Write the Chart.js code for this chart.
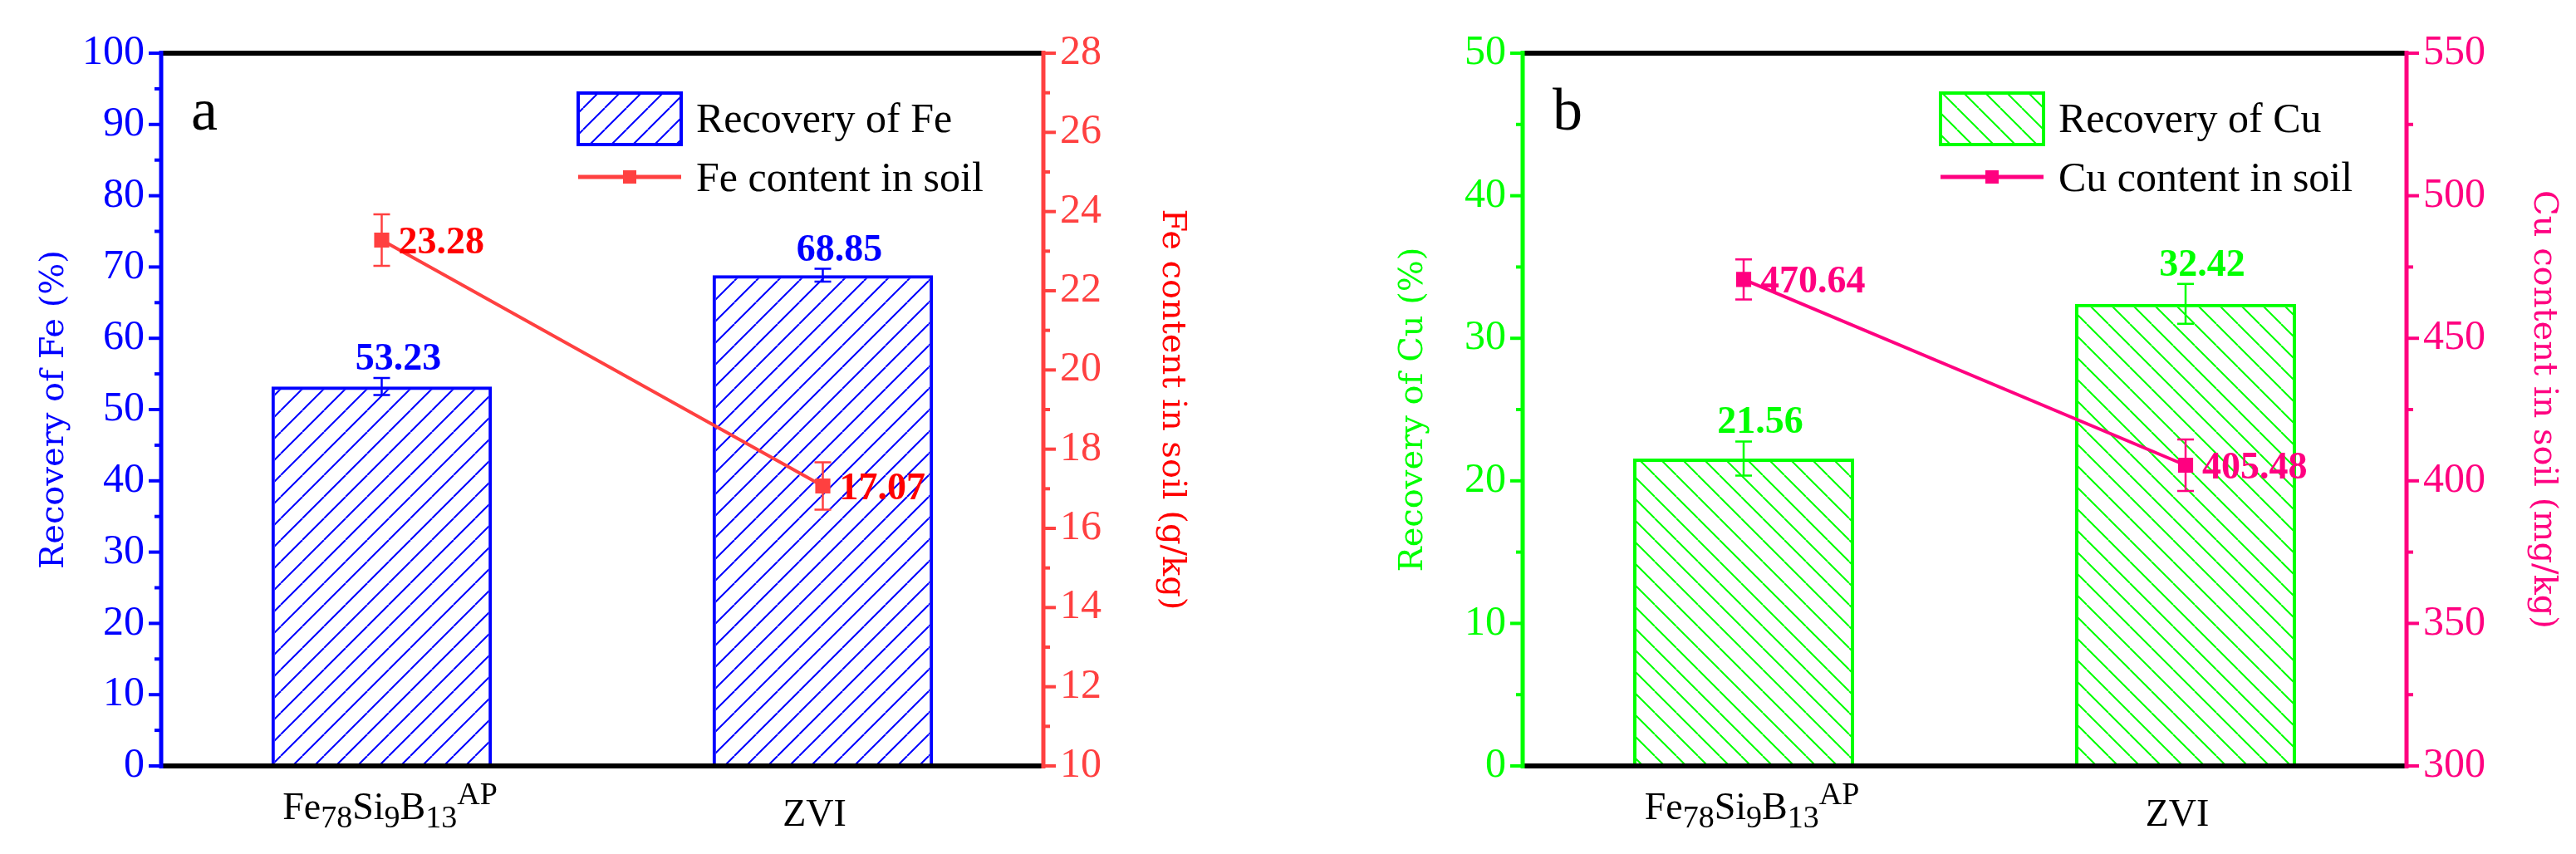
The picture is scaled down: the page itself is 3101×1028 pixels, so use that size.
<!DOCTYPE html>
<html><head><meta charset="utf-8">
<script src="https://cdn.jsdelivr.net/npm/chart.js@4.4.0/dist/chart.umd.min.js"></script>
<style>body{margin:0;background:#fff;width:3101px;height:1028px;overflow:hidden}
.w{position:absolute;top:0;height:1028px}</style></head>
<body>
<div class="w" style="left:0;width:1550px"><canvas id="a"></canvas></div>
<div class="w" style="left:1550px;width:1551px"><canvas id="b"></canvas></div>
<script>
const categories = ["Fe78Si9B13AP", "ZVI"];
const feRecovery = [53.23, 68.85];
const feRecoveryErr = [1.2, 0.9];
const feContent = [23.28, 17.07];
const feContentErr = [0.65, 0.6];
const cuRecovery = [21.56, 32.42];
const cuRecoveryErr = [1.2, 1.4];
const cuContent = [470.64, 405.48];
const cuContentErr = [7, 9];

const FONT = "'Liberation Serif', 'Times New Roman', serif";
const TFONT = "'DejaVu Serif', serif";

function hatch(color, dir) {
  const c = document.createElement('canvas'); c.width = 26; c.height = 26;
  const g = c.getContext('2d'); g.strokeStyle = color; g.lineWidth = 2;
  for (let k = -1; k <= 1; k++) {
    g.beginPath();
    if (dir > 0) { g.moveTo(k*26, 26); g.lineTo(k*26+26, 0); }
    else { g.moveTo(k*26, 0); g.lineTo(k*26+26, 26); }
    g.stroke();
  }
  return g.createPattern(c, 'repeat');
}

function drawLabel(ctx, x, y) {
  const parts = [["Fe",0],["78",1],["Si",0],["9",1],["B",0],["13",1],["AP",2]];
  let w = 0;
  parts.forEach(p => { ctx.font = (p[1]?38:46)+"px "+FONT; w += ctx.measureText(p[0]).width; });
  let cx = x - w/2;
  ctx.textAlign = 'left'; ctx.textBaseline = 'alphabetic'; ctx.fillStyle = '#000';
  parts.forEach(p => {
    ctx.font = (p[1]?38:46)+"px "+FONT;
    const dy = p[1]===1 ? 10 : p[1]===2 ? -18 : 0;
    ctx.fillText(p[0], cx, y+dy); cx += ctx.measureText(p[0]).width;
  });
}

function makeChart(id, cfg) {
  const deco = {
    id: 'deco',
    afterDraw(chart) {
      const ctx = chart.ctx, a = chart.chartArea;
      const x = chart.scales.x, y = chart.scales.y, y2 = chart.scales.y2;
      ctx.save();
      [[y, cfg.barColor, a.left, -1, cfg.yMinor], [y2, cfg.lineColor, a.right, 1, cfg.y2Minor]].forEach(([s, col, px, d, step]) => {
        ctx.strokeStyle = col; ctx.lineWidth = 4;
        for (let v = s.min + step; v < s.max; v += 2*step) {
          const py = s.getPixelForValue(v);
          ctx.beginPath(); ctx.moveTo(px, py); ctx.lineTo(px + d*8, py); ctx.stroke();
        }
      });
      ctx.lineWidth = 4;
      y.ticks.forEach(t => { const py = y.getPixelForValue(t.value);
        ctx.strokeStyle = cfg.barColor; ctx.beginPath(); ctx.moveTo(a.left, py); ctx.lineTo(a.left - 15, py); ctx.stroke(); });
      y2.ticks.forEach(t => { const py = y2.getPixelForValue(t.value);
        ctx.strokeStyle = cfg.lineColor; ctx.beginPath(); ctx.moveTo(a.right, py); ctx.lineTo(a.right + 15, py); ctx.stroke(); });
      ctx.strokeStyle = '#000'; ctx.lineWidth = 6;
      ctx.beginPath(); ctx.moveTo(a.left, a.top); ctx.lineTo(a.right, a.top); ctx.stroke();
      ctx.beginPath(); ctx.moveTo(a.left, a.bottom); ctx.lineTo(a.right, a.bottom); ctx.stroke();
      ctx.lineWidth = 5;
      ctx.strokeStyle = cfg.barColor; ctx.beginPath(); ctx.moveTo(a.left, a.top-3); ctx.lineTo(a.left, a.bottom+3); ctx.stroke();
      ctx.strokeStyle = cfg.lineColor; ctx.beginPath(); ctx.moveTo(a.right, a.top-3); ctx.lineTo(a.right, a.bottom+3); ctx.stroke();
      const ebar = (px, v, e, s, col) => {
        const t = s.getPixelForValue(v+e), b = s.getPixelForValue(v-e);
        ctx.strokeStyle = col; ctx.lineWidth = 2.5;
        ctx.beginPath(); ctx.moveTo(px, t); ctx.lineTo(px, b);
        ctx.moveTo(px-10, t); ctx.lineTo(px+10, t); ctx.moveTo(px-10, b); ctx.lineTo(px+10, b); ctx.stroke();
      };
      ctx.font = "bold 46px " + FONT; ctx.textBaseline = 'alphabetic';
      cfg.bars.forEach((v, i) => {
        const px = x.getPixelForValue(i);
        ebar(px, v, cfg.barErr[i], y, cfg.barColor);
        ctx.fillStyle = cfg.barColor; ctx.textAlign = 'center';
        ctx.fillText(v.toFixed(2), px + 20, y.getPixelForValue(v + cfg.barErr[i]) - 10);
      });
      cfg.line.forEach((v, i) => {
        const px = x.getPixelForValue(i);
        ebar(px, v, cfg.lineErr[i], y2, cfg.lineColor);
        ctx.fillStyle = cfg.lineTextColor; ctx.textAlign = 'left'; ctx.textBaseline = 'middle';
        ctx.font = "bold 46px " + FONT;
        ctx.fillText(v.toFixed(2), px + 20, y2.getPixelForValue(v) + 4);
        ctx.textBaseline = 'alphabetic';
      });
      drawLabel(ctx, x.getPixelForValue(0) + 10, a.bottom + 64);
      ctx.font = "46px " + FONT; ctx.fillStyle = '#000'; ctx.textAlign = 'center';
      ctx.fillText(categories[1], x.getPixelForValue(1) - 10, a.bottom + 72);
      ctx.font = "72px " + FONT; ctx.textAlign = 'left';
      ctx.fillText(cfg.letter, a.left + 36, a.top + 92);
      const lx = cfg.legendX, ly = a.top + 48;
      ctx.fillStyle = cfg.pattern; ctx.fillRect(lx, ly, 124, 62);
      ctx.strokeStyle = cfg.barColor; ctx.lineWidth = 4; ctx.strokeRect(lx, ly, 124, 62);
      ctx.fillStyle = '#000'; ctx.font = "50px " + FONT; ctx.textBaseline = 'middle';
      ctx.fillText(cfg.legend1, lx + 142, ly + 34);
      const l2 = ly + 101;
      ctx.strokeStyle = cfg.lineColor; ctx.lineWidth = 5;
      ctx.beginPath(); ctx.moveTo(lx, l2); ctx.lineTo(lx + 124, l2); ctx.stroke();
      ctx.fillStyle = cfg.lineColor; ctx.fillRect(lx + 54, l2 - 8, 16, 16);
      ctx.fillStyle = '#000'; ctx.fillText(cfg.legend2, lx + 142, l2 + 4);
      ctx.restore();
    }
  };
  const fix = w => s => { s.width = w; };
  return new Chart(document.getElementById(id), {
    data: {
      labels: categories,
      datasets: [
        { type: 'line', data: cfg.line, yAxisID: 'y2', borderColor: cfg.lineColor, borderWidth: 4,
          pointStyle: 'rect', pointRadius: 10, pointBackgroundColor: cfg.lineColor, pointBorderColor: cfg.lineColor, order: 0 },
        { type: 'bar', data: cfg.bars, yAxisID: 'y', backgroundColor: cfg.pattern, borderColor: cfg.barColor,
          borderWidth: 4, categoryPercentage: 1, barPercentage: 0.5, order: 1 }
      ]
    },
    options: {
      responsive: true, maintainAspectRatio: false, animation: false,
      layout: { padding: { top: 64, left: cfg.padL, right: cfg.padR, bottom: 0 } },
      plugins: { legend: { display: false }, tooltip: { enabled: false } },
      scales: {
        x: { grid: { display: false, drawTicks: false }, border: { display: false },
             ticks: { display: false }, afterFit: s => { s.height = 106; } },
        y: { position: 'left', min: cfg.yMin, max: cfg.yMax, afterFit: fix(cfg.leftW),
             border: { display: false }, grid: { display: false, drawTicks: false },
             ticks: { stepSize: cfg.yStep, color: cfg.barColor, font: { family: FONT, size: 50 }, padding: 20 },
             title: { display: true, text: cfg.yTitle, color: cfg.barColor, font: { family: TFONT, size: 40 }, padding: 0 } },
        y2: { position: 'right', min: cfg.y2Min, max: cfg.y2Max, afterFit: fix(cfg.rightW),
             border: { display: false }, grid: { display: false, drawTicks: false },
             ticks: { stepSize: cfg.y2Step, color: cfg.lineColor, font: { family: FONT, size: 50 }, padding: 20 },
             title: { display: true, text: cfg.y2Title, color: cfg.lineTextColor, font: { family: TFONT, size: 40 }, padding: 0 } }
      }
    },
    plugins: [deco]
  });
}

makeChart('a', { bars: feRecovery, barErr: feRecoveryErr, line: feContent, lineErr: feContentErr,
  barColor: '#0000ff', lineColor: '#ff4040', lineTextColor: '#ff0000', pattern: hatch('#0000ff', 1),
  yMin: 0, yMax: 100, yStep: 10, yMinor: 5, y2Min: 10, y2Max: 28, y2Step: 2, y2Minor: 1,
  yTitle: 'Recovery of Fe (%)', y2Title: 'Fe content in soil (g/kg)', letter: 'a',
  legend1: 'Recovery of Fe', legend2: 'Fe content in soil', legendX: 696,
  padL: 42, leftW: 152, padR: 116, rightW: 178 });

makeChart('b', { bars: cuRecovery, barErr: cuRecoveryErr, line: cuContent, lineErr: cuContentErr,
  barColor: '#00ff00', lineColor: '#ff0080', lineTextColor: '#ff0080', pattern: hatch('#00ff00', -1),
  yMin: 0, yMax: 50, yStep: 10, yMinor: 5, y2Min: 300, y2Max: 550, y2Step: 50, y2Minor: 25,
  yTitle: 'Recovery of Cu (%)', y2Title: 'Cu content in soil (mg/kg)', letter: 'b',
  legend1: 'Recovery of Cu', legend2: 'Cu content in soil', legendX: 786,
  padL: 128, leftW: 155, padR: 16, rightW: 188 });
</script>
</body></html>
